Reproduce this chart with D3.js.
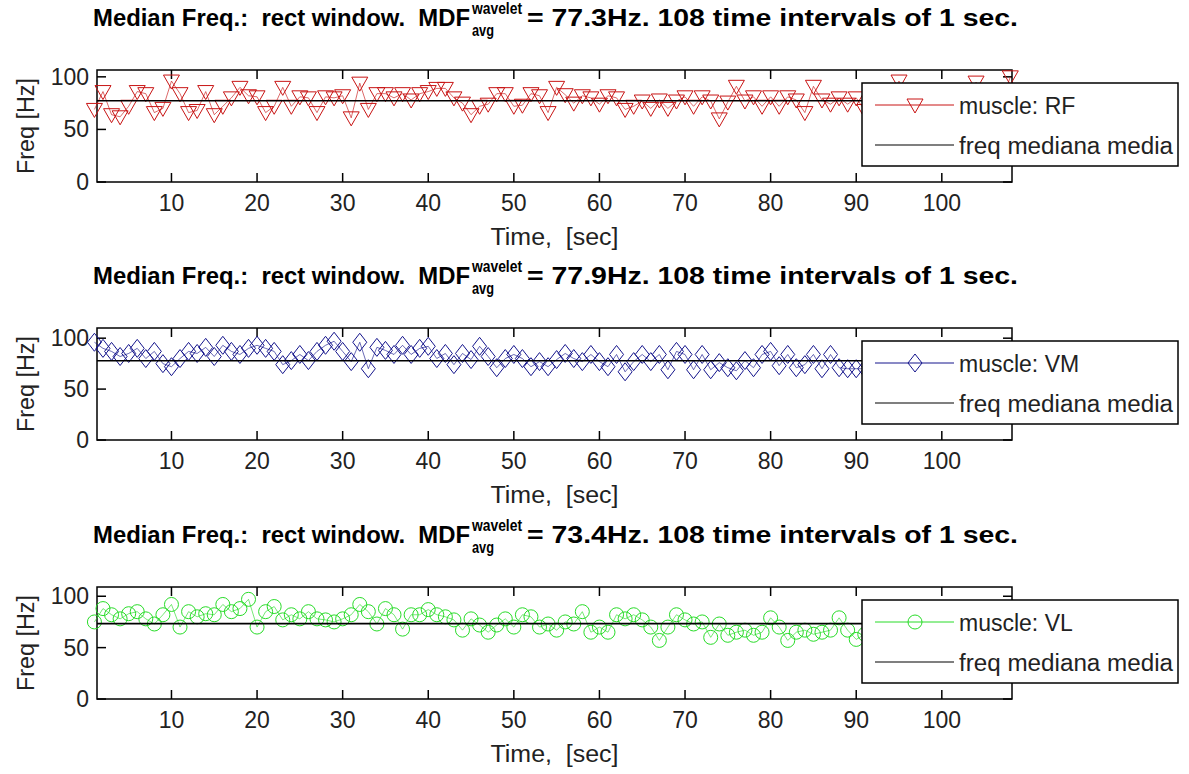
<!DOCTYPE html>
<html>
<head>
<meta charset="utf-8">
<script src="https://cdn.jsdelivr.net/npm/d3@7"></script>
<style>
  body { margin: 0; background: #fff; }
  svg { display: block; }
  text { font-family: "Liberation Sans Narrow", "Liberation Sans", Arial, sans-serif; white-space: pre; }
  .ttl { font-weight: bold; }
</style>
</head>
<body>
<svg width="1189" height="774"></svg>
<script>
// median frequency per 1 s interval
const time = d3.range(1, 109);
const rfValues = [69,86,64,62,72,86,84,66,70,96,84,66,68,86,64,72,80,90,82,81,
  66,72,90,72,81,80,66,81,80,82,61,94,69,84,84,80,84,78,84,86,
  89,89,80,75,64,72,74,84,84,72,73,84,82,66,90,83,75,82,80,74,
  82,80,69,72,77,70,78,70,77,81,72,81,77,60,76,91,77,81,72,81,
  72,81,78,66,91,78,74,80,74,80,68,78,72,80,96,76,70,78,74,80,
  72,77,75,95,78,72,76,100];
const vmValues = [96,90,87,82,85,90,80,87,75,72,80,87,85,91,82,93,87,84,90,93,
  90,87,74,78,84,78,87,93,97,87,77,96,70,91,88,84,93,84,90,92,
  80,85,74,85,79,92,82,71,80,84,80,72,77,72,79,85,80,77,84,77,
  72,84,67,77,84,77,84,69,87,84,69,84,69,76,71,68,78,71,84,87,
  73,84,71,74,84,70,84,71,70,70,70,72,75,80,74,71,78,73,70,76,
  72,74,78,71,73,76,72,74];
const vlValues = [75,88,82,78,83,85,78,73,82,92,70,85,80,83,82,92,85,88,97,70,
  85,90,77,82,78,85,78,77,75,78,82,92,85,73,88,82,68,82,82,87,
  82,80,77,67,78,72,65,72,78,70,82,80,70,73,67,75,73,85,65,70,
  65,82,78,82,77,70,57,70,82,77,73,75,60,73,62,65,67,62,65,79,
  70,57,65,67,63,65,67,79,67,58,63,68,65,70,62,68,66,70,64,67,
  72,65,68,70,66,64,69,67];
const meanFreq = [77.3, 77.9, 73.4];
const muscles = ["RF", "VM", "VL"];
const xTicks = [10, 20, 30, 40, 50, 60, 70, 80, 90, 100];
const yTicks = [0, 50, 100];

const panels = [
  { values: rfValues, color: "#c81414", marker: "tri", top: 70, yMax: 106.5 },
  { values: vmValues, color: "#14148c", marker: "dia", top: 328, yMax: 110 },
  { values: vlValues, color: "#28dc28", marker: "circ", top: 587, yMax: 109 }
];

const svg = d3.select("svg");
const left = 97, right = 1012, h = 112;
const x = d3.scaleLinear().domain([1.3, 108.2]).range([left, right]);

function markerPath(type) {
  if (type === "tri") return "M-8,-6L8,-6L0,8Z";
  if (type === "dia") return "M0,-9L7,0L0,9L-7,0Z";
  return d3.symbol().type(d3.symbolCircle).size(Math.PI * 49)();
}

panels.forEach((p, i) => {
  const y = d3.scaleLinear().domain([0, p.yMax]).range([p.top + h, p.top]);
  const g = svg.append("g");
  const bottom = p.top + h;

  // box
  g.append("rect").attr("x", left).attr("y", p.top)
    .attr("width", right - left).attr("height", h)
    .attr("fill", "none").attr("stroke", "#000").attr("stroke-width", 1.5);

  // ticks on all four sides
  xTicks.forEach(t => {
    g.append("line").attr("x1", x(t)).attr("x2", x(t)).attr("y1", bottom).attr("y2", bottom - 9).attr("stroke", "#000").attr("stroke-width", 1.5);
    g.append("line").attr("x1", x(t)).attr("x2", x(t)).attr("y1", p.top).attr("y2", p.top + 9).attr("stroke", "#000").attr("stroke-width", 1.5);
    g.append("text").attr("x", x(t)).attr("y", bottom + 29).attr("text-anchor", "middle")
      .attr("font-size", 23).attr("fill", "#222").text(t);
  });
  yTicks.forEach(t => {
    g.append("line").attr("x1", left).attr("x2", left + 9).attr("y1", y(t)).attr("y2", y(t)).attr("stroke", "#000").attr("stroke-width", 1.5);
    g.append("line").attr("x1", right).attr("x2", right - 9).attr("y1", y(t)).attr("y2", y(t)).attr("stroke", "#000").attr("stroke-width", 1.5);
    g.append("text").attr("x", 89).attr("y", y(t) + 8).attr("text-anchor", "end")
      .attr("font-size", 23).attr("fill", "#222").text(t);
  });

  // axis labels
  g.append("text").attr("x", (left + right) / 2).attr("y", bottom + 63).attr("text-anchor", "middle")
    .attr("font-size", 23).attr("fill", "#222")
    .attr("textLength", 128).attr("lengthAdjust", "spacingAndGlyphs").text("Time,  [sec]");
  g.append("text").attr("transform", `translate(34,${p.top + h / 2}) rotate(-90)`)
    .attr("text-anchor", "middle").attr("font-size", 23).attr("fill", "#222")
    .attr("textLength", 96).attr("lengthAdjust", "spacingAndGlyphs").text("Freq [Hz]");

  // title
  const ty = p.top - 44;
  g.append("text").attr("class", "ttl").attr("x", 93).attr("y", ty).attr("font-size", 23)
    .attr("textLength", 377).attr("lengthAdjust", "spacingAndGlyphs")
    .text("Median Freq.:  rect window.  MDF");
  g.append("text").attr("class", "ttl").attr("x", 472).attr("y", ty - 12).attr("font-size", 16)
    .attr("textLength", 50).attr("lengthAdjust", "spacingAndGlyphs").text("wavelet");
  g.append("text").attr("class", "ttl").attr("x", 472).attr("y", ty + 10).attr("font-size", 16)
    .attr("textLength", 22).attr("lengthAdjust", "spacingAndGlyphs").text("avg");
  g.append("text").attr("class", "ttl").attr("x", 527).attr("y", ty).attr("font-size", 23)
    .attr("textLength", 491).attr("lengthAdjust", "spacingAndGlyphs")
    .text(`= ${meanFreq[i].toFixed(1)}Hz. 108 time intervals of 1 sec.`);

  // data line + markers
  const line = d3.line().x((d, k) => x(time[k])).y(d => y(d));
  g.append("path").datum(p.values).attr("d", line)
    .attr("fill", "none").attr("stroke", p.color).attr("stroke-width", 0.8).attr("stroke-opacity", 0.8);
  g.selectAll(".m").data(p.values).enter().append("path")
    .attr("transform", (d, k) => `translate(${x(time[k])},${y(d)})`)
    .attr("d", markerPath(p.marker))
    .attr("fill", "none").attr("stroke", p.color).attr("stroke-width", 1);

  // mean line
  g.append("line").attr("x1", left).attr("x2", right)
    .attr("y1", y(meanFreq[i])).attr("y2", y(meanFreq[i]))
    .attr("stroke", "#000").attr("stroke-width", 1.6);

  // legend
  const lx = 862, ly = p.top + 13;
  const leg = g.append("g");
  leg.append("rect").attr("x", lx).attr("y", ly).attr("width", 316).attr("height", 83)
    .attr("fill", "#fff").attr("stroke", "#000").attr("stroke-width", 1.5);
  leg.append("line").attr("x1", lx + 13).attr("x2", lx + 92).attr("y1", ly + 22).attr("y2", ly + 22)
    .attr("stroke", p.color).attr("stroke-width", 1);
  leg.append("path").attr("transform", `translate(${lx + 53},${ly + 22})`)
    .attr("d", markerPath(p.marker)).attr("fill", "none").attr("stroke", p.color);
  leg.append("text").attr("x", lx + 97).attr("y", ly + 31).attr("font-size", 23).attr("fill", "#222")
    .text("muscle: " + muscles[i]);
  leg.append("line").attr("x1", lx + 13).attr("x2", lx + 92).attr("y1", ly + 62).attr("y2", ly + 62)
    .attr("stroke", "#000").attr("stroke-width", 1.2);
  leg.append("text").attr("x", lx + 97).attr("y", ly + 71).attr("font-size", 23).attr("fill", "#222")
    .attr("textLength", 214).attr("lengthAdjust", "spacingAndGlyphs")
    .text("freq mediana media");
});
</script>
</body>
</html>
